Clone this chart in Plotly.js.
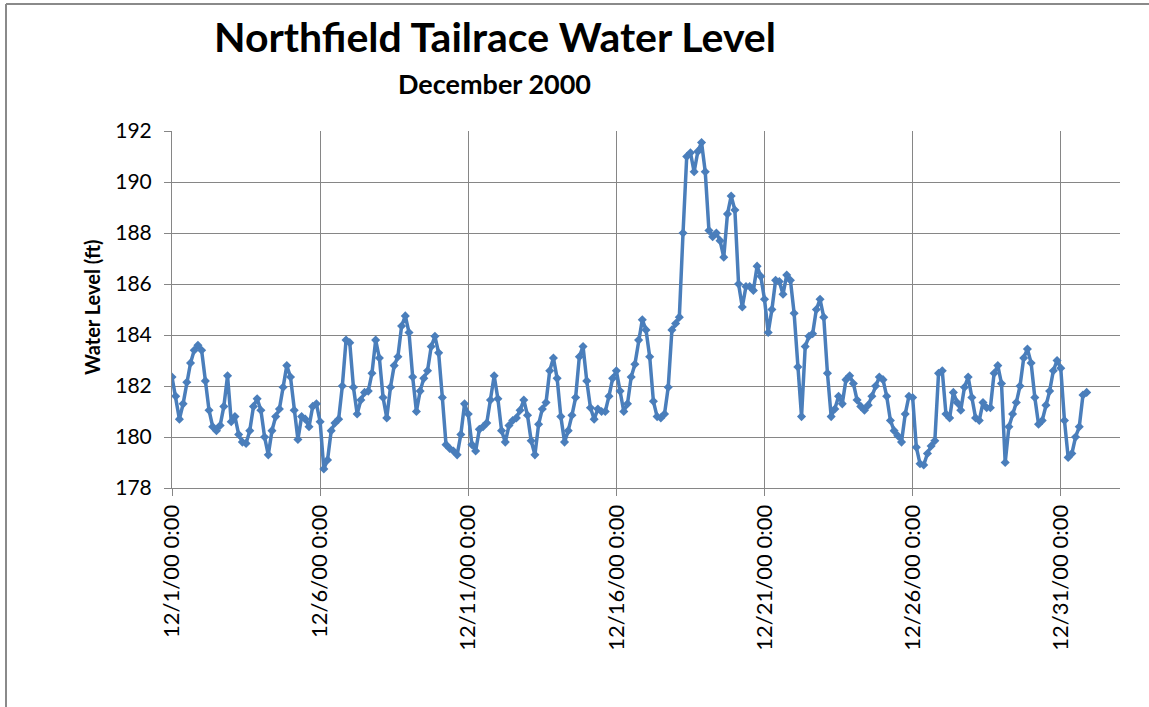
<!DOCTYPE html>
<html>
<head>
<meta charset="utf-8">
<script src="https://cdn.plot.ly/plotly-3.0.1.min.js"></script>
<style>html,body{margin:0;padding:0;background:#fff;}#chart{width:1149px;height:707px;}</style>
</head>
<body>
<div id="chart"></div>
<script>
// Sampling: every 3 hours (ft)
const days = ['2000-12-01','2000-12-02','2000-12-03','2000-12-04','2000-12-05','2000-12-06','2000-12-07','2000-12-08','2000-12-09','2000-12-10','2000-12-11','2000-12-12','2000-12-13','2000-12-14','2000-12-15','2000-12-16','2000-12-17','2000-12-18','2000-12-19','2000-12-20','2000-12-21','2000-12-22','2000-12-23','2000-12-24','2000-12-25','2000-12-26','2000-12-27','2000-12-28','2000-12-29','2000-12-30','2000-12-31'];
const hours = ['00:00','03:00','06:00','09:00','12:00','15:00','18:00','21:00'];

const dec01 = [182.35, 181.6, 180.7, 181.3, 182.15, 182.9, 183.4, 183.6];
const dec02 = [183.4, 182.2, 181.05, 180.4, 180.25, 180.45, 181.2, 182.4];
const dec03 = [180.6, 180.8, 180.1, 179.8, 179.75, 180.25, 181.2, 181.5];
const dec04 = [181.05, 180.0, 179.3, 180.25, 180.8, 181.1, 181.95, 182.8];
const dec05 = [182.35, 181.05, 179.9, 180.8, 180.7, 180.4, 181.2, 181.3];
const dec06 = [180.6, 178.75, 179.1, 180.25, 180.55, 180.7, 182.0, 183.8];
const dec07 = [183.7, 181.95, 180.9, 181.45, 181.75, 181.8, 182.5, 183.8];
const dec08 = [183.1, 181.55, 180.75, 181.95, 182.8, 183.15, 184.35, 184.75];
const dec09 = [184.1, 182.35, 181.0, 181.8, 182.3, 182.6, 183.55, 183.95];
const dec10 = [183.3, 181.55, 179.7, 179.55, 179.45, 179.3, 180.1, 181.3];
const dec11 = [180.9, 179.7, 179.45, 180.3, 180.4, 180.55, 181.45, 182.4];
const dec12 = [181.5, 180.25, 179.8, 180.45, 180.65, 180.75, 181.05, 181.45];
const dec13 = [180.85, 179.85, 179.3, 180.5, 181.1, 181.35, 182.6, 183.1];
const dec14 = [182.3, 180.8, 179.8, 180.25, 180.85, 181.55, 183.15, 183.55];
const dec15 = [182.2, 181.15, 180.7, 181.1, 181.0, 181.0, 181.6, 182.3];
const dec16 = [182.6, 181.8, 181.0, 181.3, 182.35, 182.85, 183.8, 184.6];
const dec17 = [184.2, 183.15, 181.4, 180.8, 180.75, 180.9, 181.95, 184.2];
const dec18 = [184.45, 184.7, 188.0, 191.0, 191.15, 190.4, 191.2, 191.55];
const dec19 = [190.4, 188.1, 187.85, 188.0, 187.7, 187.05, 188.75, 189.45];
const dec20 = [188.9, 186.0, 185.1, 185.9, 185.9, 185.75, 186.7, 186.3];
const dec21 = [185.4, 184.1, 185.0, 186.15, 186.1, 185.6, 186.35, 186.15];
const dec22 = [184.85, 182.75, 180.8, 183.55, 183.95, 184.05, 185.0, 185.4];
const dec23 = [184.7, 182.5, 180.8, 181.1, 181.6, 181.3, 182.25, 182.4];
const dec24 = [182.1, 181.45, 181.2, 181.05, 181.25, 181.6, 182.0, 182.35];
const dec25 = [182.25, 181.6, 180.65, 180.25, 180.05, 179.8, 180.9, 181.6];
const dec26 = [181.55, 179.6, 178.95, 178.9, 179.35, 179.65, 179.85, 182.5];
const dec27 = [182.6, 180.9, 180.75, 181.75, 181.35, 181.05, 181.95, 182.35];
const dec28 = [181.55, 180.75, 180.65, 181.35, 181.15, 181.15, 182.5, 182.8];
const dec29 = [182.1, 179.0, 180.4, 180.9, 181.35, 182.0, 183.1, 183.45];
const dec30 = [182.9, 181.55, 180.5, 180.65, 181.25, 181.8, 182.6, 183.0];
const dec31 = [182.7, 180.65, 179.2, 179.35, 180.0, 180.4, 181.65, 181.75];

const dailyLevels = [dec01,dec02,dec03,dec04,dec05,dec06,dec07,dec08,dec09,dec10,dec11,dec12,dec13,dec14,dec15,dec16,dec17,dec18,dec19,dec20,dec21,dec22,dec23,dec24,dec25,dec26,dec27,dec28,dec29,dec30,dec31];

const yTicks = [178, 180, 182, 184, 186, 188, 190, 192];

const xs = [], ys = [];
days.forEach((d, i) => {
  hours.forEach((h, j) => {
    xs.push(d + ' ' + h);
    ys.push(dailyLevels[i][j]);
  });
});

const blue = '#4A7EBB';
const grid = '#868686';
const FONT = 'Lato, "Open Sans", sans-serif';

const trace = {
  x: xs, y: ys, type: 'scatter', mode: 'lines+markers',
  line: {color: blue, width: 3.5},
  marker: {symbol: 'diamond', size: 7, color: blue},
  hoverinfo: 'x+y'
};

const layout = {
  width: 1149, height: 707,
  margin: {l: 172, r: 29, t: 131, b: 219, pad: 0},
  paper_bgcolor: '#fff', plot_bgcolor: '#fff',
  showlegend: false,
  font: {family: FONT, color: '#000'},
  title: {
    text: 'Northfield Tailrace Water Level',
    font: {family: FONT, size: 41, weight: 'bold', color: '#000'},
    xref: 'container', x: 495/1149, xanchor: 'center',
    yref: 'container', y: 1 - 38/707, yanchor: 'middle'
  },
  xaxis: {
    type: 'date',
    range: ['2000-12-01 00:00', '2001-01-02 00:00'],
    tick0: '2000-12-01', dtick: 5 * 86400000,
    tickformat: '%m/%-d/%y %-H:%M',
    tickangle: -90,
    ticks: 'outside', ticklen: 7, tickcolor: grid, tickwidth: 1,
    showgrid: true, gridcolor: grid, gridwidth: 1,
    showline: true, linecolor: grid, linewidth: 1,
    zeroline: false,
    tickfont: {family: FONT, size: 22, color: '#000'}
  },
  yaxis: {
    range: [178, 192],
    tickvals: yTicks,
    ticktext: yTicks.map(String),
    ticks: 'outside', ticklen: 7, tickcolor: grid, tickwidth: 1,
    ticklabelstandoff: 8,
    showgrid: true, gridcolor: grid, gridwidth: 1,
    showline: true, linecolor: grid, linewidth: 1,
    zeroline: false,
    tickfont: {family: FONT, size: 21, color: '#000'}
  },
  annotations: [
    {
      text: 'December 2000', showarrow: false,
      xref: 'paper', yref: 'paper',
      x: (494 - 172) / 948, y: (488 - 83) / 357,
      xanchor: 'center', yanchor: 'middle',
      font: {family: FONT, size: 27, weight: 'bold', color: '#000'}
    },
    {
      text: 'Water Level (ft)', showarrow: false, textangle: -90,
      xref: 'paper', yref: 'paper',
      x: (92 - 172) / 948, y: (488 - 307) / 357,
      xanchor: 'center', yanchor: 'middle',
      font: {family: FONT, size: 20, weight: 'bold', color: '#000'}
    }
  ],
  shapes: [
    {type: 'line', xref: 'paper', yref: 'paper',
     x0: (6 - 172) / 948, x1: (6 - 172) / 948, y0: (488 - 4) / 357, y1: (488 - 720) / 357,
     line: {color: '#8a8a8a', width: 2}},
    {type: 'line', xref: 'paper', yref: 'paper',
     x0: (6 - 172) / 948, x1: (1160 - 172) / 948, y0: (488 - 4) / 357, y1: (488 - 4) / 357,
     line: {color: '#8a8a8a', width: 2}}
  ]
};

Plotly.newPlot('chart', [trace], layout, {displayModeBar: false, staticPlot: true});
</script>
</body>
</html>
